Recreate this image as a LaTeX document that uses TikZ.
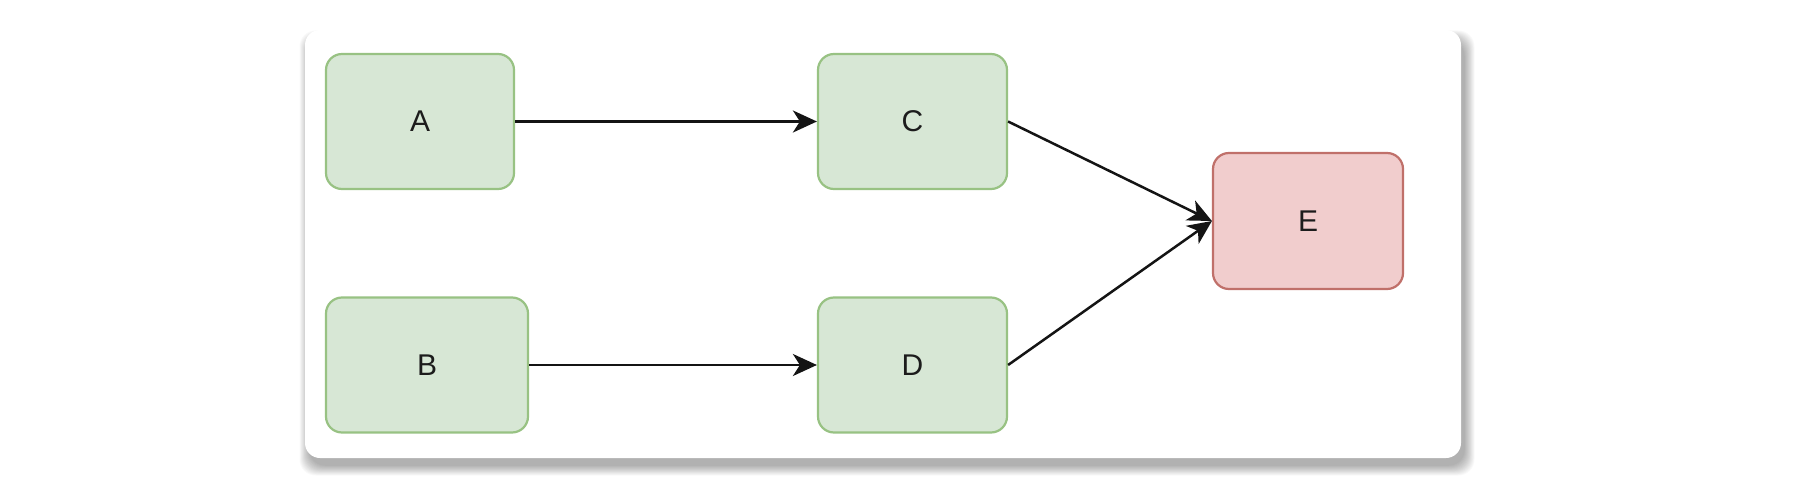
\documentclass[tikz,border=0pt]{standalone}
\usepackage{fontspec}
\setmainfont{Liberation Sans}
\usetikzlibrary{arrows.meta}
\definecolor{gfill}{HTML}{D7E7D5}
\definecolor{gline}{HTML}{98C283}
\definecolor{rfill}{HTML}{F1CDCD}
\definecolor{rline}{HTML}{C0706A}
\definecolor{txt}{HTML}{1C1C1C}
\tikzset{
  box/.style={rounded corners=16pt, line width=2.2pt, inner sep=0pt,
    font=\fontsize{30}{34}\selectfont, text=txt},
  gbox/.style={box, fill=gfill, draw=gline, minimum height=135pt},
  rbox/.style={box, fill=rfill, draw=rline, minimum height=136pt},
  arr/.style={line width=2.5pt, draw=black!92,
    -{Stealth[length=24pt, width=22pt, inset=7pt]}},
}
\begin{document}
\begin{tikzpicture}[x=1pt,y=-1pt]
\useasboundingbox[fill=white] (0,0) rectangle (1819,481);
% card shadow
\foreach \i in {1,...,14}{
  \fill[black, opacity=0.024, rounded corners=16pt]
    (305+5-0.75*\i, 30+11-0.75*\i) rectangle (1461+3+0.75*\i, 458+7+0.75*\i);
}
% card
\fill[white, rounded corners=15pt] (305,30) rectangle (1461,458);
% nodes
\node[gbox, minimum width=188pt] (A) at (420,121.5) {A};
\node[gbox, minimum width=189pt] (C) at (912.5,121.5) {C};
\node[gbox, minimum width=202pt] (B) at (427,365) {B};
\node[gbox, minimum width=189pt] (D) at (912.5,365) {D};
\node[rbox, minimum width=190pt] (E) at (1308,221) {E};
% connectors
\draw[arr] (A.east) -- (C.west);
\draw[arr] (B.east) -- (D.west);
\draw[arr] (C.east) -- (E.west);
\draw[arr] (D.east) -- (E.west);
\end{tikzpicture}
\end{document}
